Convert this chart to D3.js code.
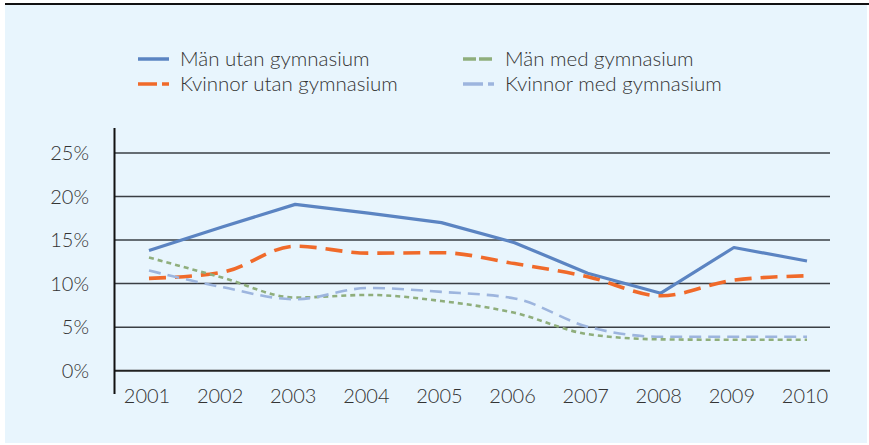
<!DOCTYPE html>
<html>
<head>
<meta charset="utf-8">
<script src="https://cdn.jsdelivr.net/npm/d3@7"></script>
<style>
  html, body { margin: 0; padding: 0; background: #fff; }
  svg { display: block; }
</style>
</head>
<body>
<svg id="chart" width="869" height="445"></svg>
<script>
// data (percent)
const years = ["2001","2002","2003","2004","2005","2006","2007","2008","2009","2010"];
const manUtan    = [13.8, 16.5, 19.1, 18.1, 17.0, 14.7, 11.2, 8.9, 14.15, 12.6];
const kvinnorUtan = [10.6, 11.3, 14.3, 13.5, 13.55, 12.3, 10.8, 8.6, 10.4, 10.9];
const manMed     = [13.0, 10.7, 8.4, 8.7, 8.0, 6.65, 4.2, 3.6, 3.55, 3.55];
const kvinnorMed = [11.5, 9.6, 8.2, 9.5, 9.05, 8.3, 5.05, 3.9, 3.9, 3.9];
const yTicks = [0, 5, 10, 15, 20, 25];

const series = [
  { name: "Män utan gymnasium",     values: manUtan,     color: "#5b84c2", width: 3.2, dash: null,   legendDash: null,   curve: d3.curveLinear },
  { name: "Kvinnor utan gymnasium", values: kvinnorUtan, color: "#f06a2a", width: 3.6, dash: "17,9", legendDash: "19,5", curve: d3.curveMonotoneX },
  { name: "Män med gymnasium",      values: manMed,      color: "#8fae7c", width: 2.6, dash: "5,4",  legendDash: "13,3", curve: d3.curveMonotoneX },
  { name: "Kvinnor med gymnasium",  values: kvinnorMed,  color: "#9db5de", width: 2.6, dash: "12,7", legendDash: "20,5", curve: d3.curveMonotoneX }
];

const svg = d3.select("#chart");
const fontAxis = "Lato, 'Open Sans', sans-serif";

// panel background and top rule
svg.append("rect").attr("x", 5).attr("y", 5).attr("width", 862).attr("height", 438).attr("fill", "#e8f5fd");
svg.append("line").attr("x1", 5).attr("x2", 869).attr("y1", 4).attr("y2", 4)
  .attr("stroke", "#111").attr("stroke-width", 2);

const x = d3.scalePoint().domain(years).range([149, 807]);
const y = d3.scaleLinear().domain([0, 25]).range([370.7, 153]);

// gridlines
svg.append("g").selectAll("line").data(yTicks.filter(d => d > 0)).join("line")
  .attr("x1", 114).attr("x2", 830)
  .attr("y1", d => y(d)).attr("y2", d => y(d))
  .attr("stroke", "#3a3f44").attr("stroke-width", 1.5);

// zero line
svg.append("line").attr("x1", 114).attr("x2", 830).attr("y1", y(0)).attr("y2", y(0))
  .attr("stroke", "#222").attr("stroke-width", 2);

// y axis line
svg.append("line").attr("x1", 114.5).attr("x2", 114.5).attr("y1", 128).attr("y2", 394)
  .attr("stroke", "#111").attr("stroke-width", 2);

// y tick labels
svg.append("g").selectAll("text").data(yTicks).join("text")
  .attr("x", 89).attr("y", d => y(d)).attr("dy", "0.35em")
  .attr("text-anchor", "end")
  .style("font-family", fontAxis).style("font-weight", 300).style("font-size", "20px")
  .attr("fill", "#333")
  .text(d => d + "%");

// x tick labels
svg.append("g").selectAll("text").data(years).join("text")
  .attr("x", d => x(d) - 2).attr("y", 403)
  .attr("text-anchor", "middle")
  .style("font-family", fontAxis).style("font-weight", 300).style("font-size", "20px")
  .attr("fill", "#333")
  .text(d => d);

// lines
series.forEach(s => {
  const line = d3.line()
    .x((d, i) => x(years[i]))
    .y(d => y(d))
    .curve(s.curve);
  svg.append("path")
    .datum(s.values)
    .attr("d", line)
    .attr("fill", "none")
    .attr("stroke", s.color)
    .attr("stroke-width", s.width)
    .attr("stroke-dasharray", s.dash)
    .attr("stroke-linejoin", "round");
});

// legend, two columns as in the reference
const legendPos = [
  { s: series[0], lx: 138, ly: 59 },
  { s: series[1], lx: 138, ly: 84 },
  { s: series[2], lx: 463, ly: 59 },
  { s: series[3], lx: 463, ly: 84 }
];
const legend = svg.append("g");
legendPos.forEach(p => {
  legend.append("line")
    .attr("x1", p.lx).attr("x2", p.lx + 31)
    .attr("y1", p.ly).attr("y2", p.ly)
    .attr("stroke", p.s.color).attr("stroke-width", 3.5)
    .attr("stroke-dasharray", p.s.legendDash);
  legend.append("text")
    .attr("x", p.lx + 42).attr("y", p.ly + 7)
    .style("font-family", fontAxis).style("font-weight", 300)
    .style("font-size", "20.5px")
    .attr("fill", "#333")
    .text(p.s.name);
});
</script>
</body>
</html>
